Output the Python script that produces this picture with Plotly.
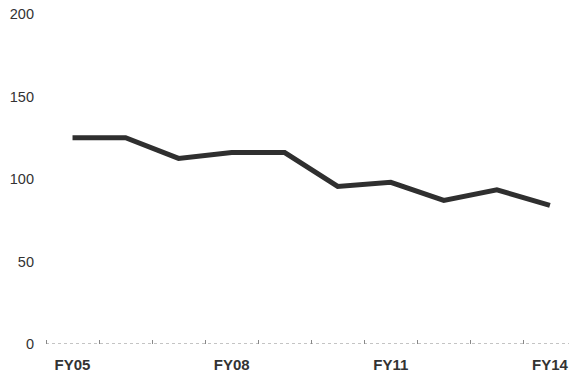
import plotly.graph_objects as go

categories = ["FY05", "FY06", "FY07", "FY08", "FY09", "FY10", "FY11", "FY12", "FY13", "FY14"]
values = [125, 125, 112.5, 116, 116, 95.5, 98, 87, 93.5, 84]
x_tick_labels = ["FY05", "FY08", "FY11", "FY14"]
y_ticks = [0, 50, 100, 150, 200]

xs = list(range(len(categories)))
tick_pos = [categories.index(c) for c in x_tick_labels]

fig = go.Figure()
fig.add_trace(go.Scatter(
    x=xs, y=values, mode="lines",
    line=dict(color="#2f2f2f", width=5),
    hoverinfo="skip", showlegend=False,
))

fig.add_shape(type="line", xref="paper", yref="y", x0=0, x1=1, y0=0, y1=0,
              line=dict(color="#888888", width=1, dash="dot"))

fig.update_layout(
    width=569, height=374,
    margin=dict(l=46, r=0, t=14, b=30),
    paper_bgcolor="white", plot_bgcolor="white",
    font=dict(family="Liberation Sans, Arial, sans-serif", color="#333333", size=14),
)
fig.update_xaxes(
    range=[-0.5, 9.36], tickvals=tick_pos, ticktext=["<b>%s</b>" % t for t in x_tick_labels],
    showgrid=False, zeroline=False, showline=False, ticks="",
    ticklabelstandoff=10, ticklabeloverflow="allow",
    tickfont=dict(size=15, color="#333333"),
    minor=dict(tick0=-0.5, dtick=1, ticks="inside", ticklen=4, tickcolor="#888888", showgrid=False),
)
fig.update_yaxes(
    range=[0, 200], tickvals=y_ticks, showgrid=False, zeroline=False, showline=False,
    ticks="", ticklabelstandoff=11, ticklabeloverflow="allow",
    tickfont=dict(size=14.5, color="#333333"),
)

fig.write_html("out.html", config={"displayModeBar": False},
               post_script="document.body.style.margin='0';document.body.style.overflow='hidden';")
